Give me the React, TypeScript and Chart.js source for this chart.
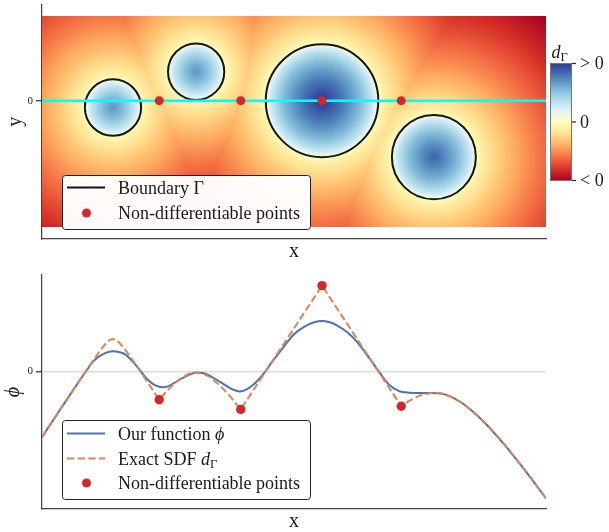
import React, { useEffect, useRef } from 'react';
import { Chart, registerables } from 'chart.js';
Chart.register(...registerables);

// ---------------- data ----------------
const xRange = [-6, 6];
const topYRange = [-3.28, 2.28];
const bottomYRange = [-2.152, 1.506];
const yTicks = [0];

// heat-map image extent and the circles forming the boundary Γ
const imageExtentX = [-6, 6];
const imageExtentY = [-3, 2];
const circleCx = [-4.31, -2.33, 0.667, 3.33];
const circleCy = [-0.163, 0.687, 0, -1.337];
const circleR = [0.67, 0.67, 1.34, 1.0];

// non-differentiable points along y = 0
const nonDiffX = [-3.21, -1.268, 0.667, 2.553];
const nonDiffPhi = [-0.444, -0.595, 1.34, -0.546];

// exact SDF along y = 0
const sdfX = [-6, -5.75, -5.5, -5.25, -5, -4.9, -4.75, -4.6, -4.5, -4.4, -4.31, -4.2, -4.1, -4.0, -3.9, -3.75, -3.5, -3.21,
  -3.1, -3.0, -2.9, -2.75, -2.5, -2.33, -2.15, -2.0, -1.75, -1.5, -1.268, 0.667, 2.553, 2.65, 2.75, 3.0, 3.25, 3.33, 3.5,
  3.75, 4.0, 4.25, 4.5, 4.75, 5.0, 5.25, 5.5, 5.75, 6.0];
const sdfVal = [-1.028, -0.779, -0.531, -0.284, -0.039, 0.058, 0.201, 0.337, 0.420, 0.484, 0.507, 0.473, 0.404, 0.320, 0.229, 0.087, -0.156, -0.444,
  -0.362, -0.290, -0.223, -0.135, -0.038, -0.017, -0.040, -0.092, -0.229, -0.408, -0.595, 1.34, -0.546, -0.500, -0.457, -0.377, -0.339, -0.337, -0.348,
  -0.401, -0.495, -0.623, -0.777, -0.950, -1.139, -1.340, -1.549, -1.765, -1.986];

// our smooth function φ along y = 0
const phiX = [-6, -5.5, -5.0, -4.75, -4.5, -4.31, -4.1, -4.0, -3.75, -3.5, -3.3, -3.12, -3.0, -2.75, -2.5, -2.33, -2.15, -2.0,
  -1.75, -1.5, -1.29, -1.15, -1.0, -0.875, -0.75, -0.5, -0.25, 0.0, 0.25, 0.5, 0.667, 0.85, 1.0, 1.29, 1.5, 1.75, 2.0, 2.25, 2.5, 2.75,
  3.0, 3.25, 3.5, 4.0, 4.5, 5.0, 5.5, 6.0];
const phiVal = [-1.028, -0.531, -0.045, 0.175, 0.285, 0.315, 0.29, 0.255, 0.085, -0.12, -0.22, -0.25, -0.235, -0.14, -0.055, -0.02, -0.03, -0.07,
  -0.17, -0.27, -0.314, -0.29, -0.225, -0.15, -0.06, 0.166, 0.38, 0.58, 0.70, 0.77, 0.785, 0.768, 0.728, 0.60, 0.46, 0.245, 0.016, -0.20, -0.31, -0.335,
  -0.34, -0.339, -0.348, -0.495, -0.777, -1.139, -1.549, -1.986];

// ---------------- style ----------------
const FONT = '"Liberation Serif", "DejaVu Serif", serif';
const RDYLBU = ['#a50026', '#d73027', '#f46d43', '#fdae61', '#fee090', '#ffffbf', '#e0f3f8', '#abd9e9', '#74add1', '#4575b4', '#313695'];
const GAMMA_NEG = 0.72;
const GAMMA_POS = 0.55;
const RED = '#d62728';
const BLUE = '#4c72b0';
const ORANGE = '#dd8452';
const TEXT = '#1a1a1a';
const LEGEND_SIZE = 18;

function hexToRgb(h: string) {
  return [parseInt(h.slice(1, 3), 16), parseInt(h.slice(3, 5), 16), parseInt(h.slice(5, 7), 16)];
}
const RDYLBU_RGB = RDYLBU.map(hexToRgb);
function cmap(t: number) {
  const tt = Math.max(0, Math.min(1, t)) * (RDYLBU_RGB.length - 1);
  const i = Math.min(RDYLBU_RGB.length - 2, Math.floor(tt));
  const f = tt - i;
  const a = RDYLBU_RGB[i], b = RDYLBU_RGB[i + 1];
  return [a[0] + (b[0] - a[0]) * f, a[1] + (b[1] - a[1]) * f, a[2] + (b[2] - a[2]) * f];
}
function signedDist(px: number, py: number) {
  let best = -Infinity;
  for (let k = 0; k < circleR.length; k++) {
    const d = circleR[k] - Math.hypot(px - circleCx[k], py - circleCy[k]);
    if (d > best) best = d;
  }
  return best;
}

type Part = { t: string; it?: boolean; sub?: boolean };
function drawRich(ctx: CanvasRenderingContext2D, x: number, y: number, parts: Part[], size: number) {
  let cx = x;
  ctx.textBaseline = 'alphabetic';
  ctx.textAlign = 'left';
  for (const p of parts) {
    const s = p.sub ? size * 0.7 : size;
    ctx.font = `${p.it ? 'italic ' : ''}${s}px ${FONT}`;
    ctx.fillText(p.t, cx, p.sub ? y + size * 0.22 : y);
    cx += ctx.measureText(p.t).width;
  }
}
function legendBox(ctx: CanvasRenderingContext2D, x: number, y: number, w: number, h: number) {
  ctx.save();
  ctx.beginPath();
  (ctx as any).roundRect(x + 0.5, y + 0.5, w, h, 3);
  ctx.fillStyle = 'rgba(255,255,255,0.97)';
  ctx.fill();
  ctx.strokeStyle = '#222';
  ctx.lineWidth = 1;
  ctx.stroke();
  ctx.restore();
}

function zeroPads(s: any) {
  s.paddingTop = 0; s.paddingBottom = 0; s.paddingLeft = 0; s.paddingRight = 0;
}

function yAxis(range: number[], title: string, italic: boolean, padTop: number, gridOnArea: boolean) {
  return {
    type: 'linear',
    min: range[0],
    max: range[1],
    afterFit: (s: any) => { s.width = 42; zeroPads(s); },
    afterBuildTicks: (s: any) => { s.ticks = yTicks.map((v) => ({ value: v })); },
    ticks: { color: TEXT, font: { family: FONT, size: 11 }, padding: 3 },
    grid: {
      display: true, drawOnChartArea: gridOnArea, color: '#dddddd', lineWidth: 1.5,
      drawTicks: true, tickLength: 6, tickColor: '#333', tickWidth: 1.25,
    },
    border: { display: true, color: '#444', width: 1.25 },
    title: {
      display: true, text: title, color: TEXT,
      font: { family: FONT, size: 20, style: italic ? 'italic' : 'normal', lineHeight: 1 },
      padding: { top: padTop, bottom: 0 },
    },
  };
}
function xAxis() {
  return {
    type: 'linear',
    min: xRange[0],
    max: xRange[1],
    afterFit: (s: any) => { s.height = 23; zeroPads(s); },
    ticks: { display: false },
    grid: { display: false },
    border: { display: true, color: '#444', width: 1.25 },
    title: {
      display: true, text: 'x', color: TEXT,
      font: { family: FONT, size: 20, lineHeight: 1 },
      padding: { top: 0, bottom: 0 },
    },
  };
}

const heatPlugin = {
  id: 'heat',
  beforeDatasetsDraw(chart: any) {
    const { ctx, scales } = chart;
    const xs = scales.x, ys = scales.y;
    const left = xs.getPixelForValue(imageExtentX[0]);
    const right = xs.getPixelForValue(imageExtentX[1]);
    const top = ys.getPixelForValue(imageExtentY[1]);
    const bottom = ys.getPixelForValue(imageExtentY[0]);
    const w = Math.max(1, Math.round(right - left));
    const h = Math.max(1, Math.round(bottom - top));
    const vals = new Float32Array(w * h);
    let vmin = Infinity, vmax = -Infinity;
    for (let j = 0; j < h; j++) {
      const dy = ys.getValueForPixel(top + (j + 0.5) * (bottom - top) / h);
      for (let i = 0; i < w; i++) {
        const dx = xs.getValueForPixel(left + (i + 0.5) * (right - left) / w);
        const v = signedDist(dx, dy);
        vals[j * w + i] = v;
        if (v < vmin) vmin = v;
        if (v > vmax) vmax = v;
      }
    }
    const off = document.createElement('canvas');
    off.width = w; off.height = h;
    const octx = off.getContext('2d')!;
    const img = octx.createImageData(w, h);
    for (let k = 0; k < w * h; k++) {
      const v = vals[k];
      const t = v >= 0
        ? 0.5 + 0.5 * Math.pow(v / vmax, GAMMA_POS)
        : 0.5 - 0.5 * Math.pow(v / vmin, GAMMA_NEG);
      const c = cmap(t);
      img.data[k * 4] = c[0];
      img.data[k * 4 + 1] = c[1];
      img.data[k * 4 + 2] = c[2];
      img.data[k * 4 + 3] = 255;
    }
    octx.putImageData(img, 0, 0);
    ctx.save();
    ctx.drawImage(off, left, top, right - left, bottom - top);
    // boundary circles
    ctx.strokeStyle = '#151515';
    ctx.lineWidth = 2;
    for (let k = 0; k < circleR.length; k++) {
      const cx = xs.getPixelForValue(circleCx[k]);
      const cy = ys.getPixelForValue(circleCy[k]);
      const rx = Math.abs(xs.getPixelForValue(circleCx[k] + circleR[k]) - cx);
      const ry = Math.abs(ys.getPixelForValue(circleCy[k] + circleR[k]) - cy);
      ctx.beginPath();
      ctx.ellipse(cx, cy, rx, ry, 0, 0, Math.PI * 2);
      ctx.stroke();
    }
    ctx.restore();
  },
  afterDraw(chart: any) {
    const ctx: CanvasRenderingContext2D = chart.ctx;
    ctx.save();
    // legend
    legendBox(ctx, 62, 175, 248, 54);
    ctx.strokeStyle = '#151515';
    ctx.lineWidth = 2;
    ctx.beginPath(); ctx.moveTo(67, 187.5); ctx.lineTo(105, 187.5); ctx.stroke();
    ctx.fillStyle = RED;
    ctx.beginPath(); ctx.arc(86.5, 213, 4.5, 0, Math.PI * 2); ctx.fill();
    ctx.fillStyle = TEXT;
    drawRich(ctx, 118, 193.5, [{ t: 'Boundary Γ' }], LEGEND_SIZE);
    drawRich(ctx, 118, 219, [{ t: 'Non-differentiable points' }], LEGEND_SIZE);
    // colorbar
    const cbx = 550, cby = 63, cbw = 22, cbh = 118;
    const g = ctx.createLinearGradient(0, cby, 0, cby + cbh);
    RDYLBU.forEach((c, i) => g.addColorStop(1 - i / (RDYLBU.length - 1), c));
    ctx.fillStyle = g;
    ctx.fillRect(cbx, cby, cbw, cbh);
    ctx.strokeStyle = '#777';
    ctx.lineWidth = 1;
    ctx.strokeRect(cbx + 0.5, cby + 0.5, cbw - 1, cbh - 1);
    ctx.strokeStyle = '#222';
    ctx.lineWidth = 1.2;
    const tickYs = [cby + 0.5, cby + cbh / 2, cby + cbh - 0.5];
    const tickLabels = ['> 0', '0', '< 0'];
    tickYs.forEach((ty, i) => {
      ctx.beginPath(); ctx.moveTo(cbx + cbw, ty); ctx.lineTo(cbx + cbw + 4, ty); ctx.stroke();
      ctx.fillStyle = TEXT;
      ctx.font = `18px ${FONT}`;
      ctx.textAlign = 'left';
      ctx.textBaseline = 'middle';
      ctx.fillText(tickLabels[i], 580, ty + 1);
    });
    ctx.fillStyle = TEXT;
    drawRich(ctx, 551.5, 57.5, [{ t: 'd', it: true }, { t: 'Γ', sub: true }], 18);
    ctx.restore();
  },
};

const bottomLegendPlugin = {
  id: 'bottomLegend',
  afterDraw(chart: any) {
    const ctx: CanvasRenderingContext2D = chart.ctx;
    ctx.save();
    legendBox(ctx, 62, 158, 248, 79);
    ctx.lineWidth = 2;
    ctx.strokeStyle = BLUE;
    ctx.beginPath(); ctx.moveTo(67, 171.5); ctx.lineTo(105, 171.5); ctx.stroke();
    ctx.strokeStyle = ORANGE;
    ctx.setLineDash([7.4, 3.2]);
    ctx.beginPath(); ctx.moveTo(67, 196.5); ctx.lineTo(105, 196.5); ctx.stroke();
    ctx.setLineDash([]);
    ctx.fillStyle = RED;
    ctx.beginPath(); ctx.arc(86.5, 221, 4.5, 0, Math.PI * 2); ctx.fill();
    ctx.fillStyle = TEXT;
    drawRich(ctx, 118, 177.5, [{ t: 'Our function ' }, { t: 'ϕ', it: true }], LEGEND_SIZE);
    drawRich(ctx, 118, 202.5, [{ t: 'Exact SDF ' }, { t: 'd', it: true }, { t: 'Γ', sub: true }], LEGEND_SIZE);
    drawRich(ctx, 118, 227, [{ t: 'Non-differentiable points' }], LEGEND_SIZE);
    ctx.restore();
  },
};

export default function App() {
  const topRef = useRef<HTMLCanvasElement | null>(null);
  const botRef = useRef<HTMLCanvasElement | null>(null);

  useEffect(() => {
    const topChart = new Chart(topRef.current as HTMLCanvasElement, {
      type: 'scatter',
      data: {
        datasets: [
          {
            label: 'Non-differentiable points',
            data: nonDiffX.map((x) => ({ x, y: 0 })),
            backgroundColor: RED,
            borderWidth: 0,
            pointRadius: 4.5,
            pointHoverRadius: 4.5,
          },
          {
            label: 'y = 0',
            data: [{ x: xRange[0], y: 0 }, { x: xRange[1], y: 0 }],
            showLine: true,
            borderColor: '#00ffff',
            borderWidth: 2.5,
            pointRadius: 0,
          },
        ],
      } as any,
      options: {
        responsive: false,
        animation: false,
        devicePixelRatio: 1,
        layout: { padding: { top: 4, right: 63, left: 0, bottom: 0 } },
        plugins: { legend: { display: false }, tooltip: { enabled: false } },
        scales: { x: xAxis() as any, y: yAxis(topYRange, 'y', false, 6, false) as any },
      },
      plugins: [heatPlugin],
    });

    const botChart = new Chart(botRef.current as HTMLCanvasElement, {
      type: 'scatter',
      data: {
        datasets: [
          {
            label: 'Non-differentiable points',
            data: nonDiffX.map((x, i) => ({ x, y: nonDiffPhi[i] })),
            backgroundColor: RED,
            borderWidth: 0,
            pointRadius: 4.7,
            pointHoverRadius: 4.7,
          },
          {
            label: 'Exact SDF',
            data: sdfX.map((x, i) => ({ x, y: sdfVal[i] })),
            showLine: true,
            borderColor: ORANGE,
            borderWidth: 2,
            borderDash: [7.4, 3.2],
            tension: 0,
            pointRadius: 0,
          },
          {
            label: 'Our function',
            data: phiX.map((x, i) => ({ x, y: phiVal[i] })),
            showLine: true,
            borderColor: BLUE,
            borderWidth: 2,
            cubicInterpolationMode: 'monotone',
            pointRadius: 0,
          },
        ],
      } as any,
      options: {
        responsive: false,
        animation: false,
        devicePixelRatio: 1,
        layout: { padding: { top: 13, right: 63, left: 0, bottom: 0 } },
        plugins: { legend: { display: false }, tooltip: { enabled: false } },
        scales: { x: xAxis() as any, y: yAxis(bottomYRange, 'ϕ', true, 4, true) as any },
      },
      plugins: [bottomLegendPlugin],
    });

    return () => {
      topChart.destroy();
      botChart.destroy();
    };
  }, []);

  return (
    <div style={{ position: 'absolute', left: 0, top: 0, width: 609, height: 532, background: '#fff' }}>
      <canvas ref={topRef} width={609} height={262} style={{ position: 'absolute', left: 0, top: 0, width: 609, height: 262 }} />
      <canvas ref={botRef} width={609} height={270} style={{ position: 'absolute', left: 0, top: 262, width: 609, height: 270 }} />
    </div>
  );
}
